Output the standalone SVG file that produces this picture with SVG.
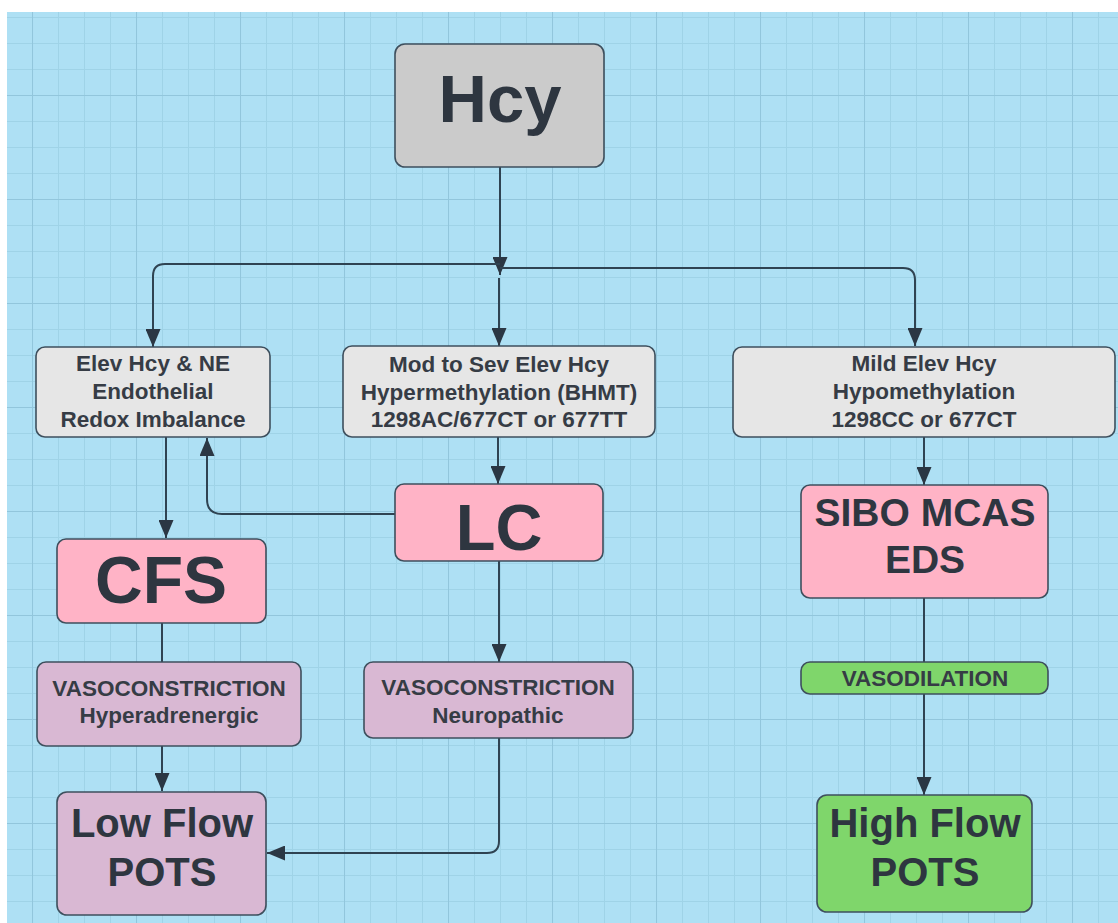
<svg xmlns="http://www.w3.org/2000/svg" width="1118" height="923" viewBox="0 0 1118 923">
<style>
.box{stroke:#3e4f5d;stroke-width:1.6}
.gray{fill:#cbcbcb}
.light{fill:#e6e6e6}
.pink{fill:#ffb3c6}
.mauve{fill:#d9b8d3}
.green{fill:#7fd66b}
text{font-family:"Liberation Sans",Arial,sans-serif;font-weight:bold;fill:#2e3640;text-anchor:middle}
.t23{font-size:22.5px;fill:#363c45}
.t40{font-size:40px}
.t39{font-size:39px}
.conn{fill:none;stroke:#2f4352;stroke-width:2}
</style>
<defs>
<pattern id="minor" patternUnits="userSpaceOnUse" x="6" y="17" width="26" height="26">
<path d="M0.5,0 V26 M0,0.5 H26" fill="none" stroke="#9fd3e7" stroke-width="1"/>
</pattern>
<pattern id="major" patternUnits="userSpaceOnUse" x="32" y="95" width="104" height="104">
<path d="M0.5,0 V104 M0,0.5 H104" fill="none" stroke="#92c6dc" stroke-width="1.1"/>
</pattern>
<marker id="arr" markerUnits="userSpaceOnUse" markerWidth="18" markerHeight="15" refX="18" refY="7.5" orient="auto">
<path d="M0,0 L18,7.5 L0,15 z" fill="#2b3744"/>
</marker>
</defs>
<rect x="0" y="0" width="1118" height="923" fill="#ffffff"/>
<rect x="7" y="12" width="1111" height="911" fill="#aee0f4"/>
<rect x="7" y="12" width="1111" height="911" fill="url(#minor)"/>
<rect x="7" y="12" width="1111" height="911" fill="url(#major)"/>

<g id="connectors">
<path class="conn" d="M500,167 V275" marker-end="url(#arr)"/>
<path class="conn" d="M500,264 H165 Q153,264 153,276 V347" marker-end="url(#arr)"/>
<path class="conn" d="M500,268 H903 Q915,268 915,280 V346" marker-end="url(#arr)"/>
<path class="conn" d="M499,278 V346" marker-end="url(#arr)"/>
<path class="conn" d="M166,437 V538" marker-end="url(#arr)"/>
<path class="conn" d="M395,514 H222 Q207,514 207,499 V438" marker-end="url(#arr)"/>
<path class="conn" d="M498,437 V484" marker-end="url(#arr)"/>
<path class="conn" d="M499,561 V662" marker-end="url(#arr)"/>
<path class="conn" d="M162,623 V662"/>
<path class="conn" d="M162,746 V791" marker-end="url(#arr)"/>
<path class="conn" d="M499,738 V841 Q499,853 487,853 H267" marker-end="url(#arr)"/>
<path class="conn" d="M924,437 V485" marker-end="url(#arr)"/>
<path class="conn" d="M924,598 V662"/>
<path class="conn" d="M924,694 V795" marker-end="url(#arr)"/>
</g>

<g id="hcy">
<rect class="box gray" x="395" y="44" width="209" height="123" rx="10"/>
<text x="500" y="122" style="font-size:67px">Hcy</text>
</g>
<g id="elev">
<rect class="box light" x="36" y="347" width="234" height="90" rx="9"/>
<text class="t23" x="153" y="371">Elev Hcy &amp; NE</text>
<text class="t23" x="153" y="399">Endothelial</text>
<text class="t23" x="153" y="427">Redox Imbalance</text>
</g>
<g id="mod">
<rect class="box light" x="343" y="346" width="312" height="91" rx="9"/>
<text class="t23" x="499" y="372">Mod to Sev Elev Hcy</text>
<text class="t23" x="499" y="400">Hypermethylation (BHMT)</text>
<text class="t23" x="499" y="427">1298AC/677CT or 677TT</text>
</g>
<g id="mild">
<rect class="box light" x="733" y="347" width="382" height="90" rx="9"/>
<text class="t23" x="924" y="371">Mild Elev Hcy</text>
<text class="t23" x="924" y="399">Hypomethylation</text>
<text class="t23" x="924" y="427">1298CC or 677CT</text>
</g>
<g id="lc">
<rect class="box pink" x="395" y="484" width="208" height="77" rx="9"/>
<text x="499" y="550" style="font-size:65px">LC</text>
</g>
<g id="sibo">
<rect class="box pink" x="801" y="485" width="247" height="113" rx="9"/>
<text class="t39" x="925" y="526">SIBO MCAS</text>
<text class="t39" x="925" y="573">EDS</text>
</g>
<g id="cfs">
<rect class="box pink" x="57" y="539" width="209" height="84" rx="9"/>
<text x="161" y="603" style="font-size:66px">CFS</text>
</g>
<g id="vaso-hyper">
<rect class="box mauve" x="37" y="662" width="264" height="84" rx="9"/>
<text class="t23" x="169" y="696">VASOCONSTRICTION</text>
<text class="t23" x="169" y="723">Hyperadrenergic</text>
</g>
<g id="vaso-neuro">
<rect class="box mauve" x="364" y="662" width="269" height="76" rx="9"/>
<text class="t23" x="498" y="695">VASOCONSTRICTION</text>
<text class="t23" x="498" y="723">Neuropathic</text>
</g>
<g id="vasodil">
<rect class="box green" x="801" y="662" width="247" height="32" rx="9"/>
<text class="t23" x="925" y="686">VASODILATION</text>
</g>
<g id="lowflow">
<rect class="box mauve" x="57" y="792" width="209" height="123" rx="10"/>
<text class="t40" x="162" y="837">Low Flow</text>
<text class="t40" x="162" y="886">POTS</text>
</g>
<g id="highflow">
<rect class="box green" x="817" y="795" width="215" height="117" rx="10"/>
<text class="t40" x="925" y="837">High Flow</text>
<text class="t40" x="925" y="886">POTS</text>
</g>
</svg>
